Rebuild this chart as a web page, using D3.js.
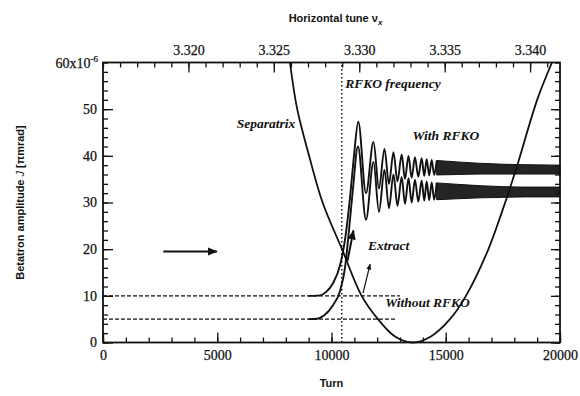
<!DOCTYPE html>
<html>
<head>
<meta charset="utf-8">
<script src="https://cdn.jsdelivr.net/npm/d3@7"></script>
<style>
body { margin: 0; background: #fff; }
.tick text { font-family: "Liberation Serif", serif; font-size: 14px; fill: #111; stroke: #111; stroke-width: 0.25px; }
.lbl { font-family: "Liberation Serif", serif; font-style: italic; font-weight: bold; font-size: 13.5px; fill: #111; }
.ttl { font-family: "Liberation Sans", sans-serif; font-weight: bold; font-size: 11px; fill: #111; }
</style>
</head>
<body>
<div id="chart"></div>
<script>
// values: turn vs betatron amplitude J (x1e-6 pi mm mrad)
const xTicks = [0, 5000, 10000, 15000, 20000];
const yTicks = [0, 10, 20, 30, 40, 50];
const tuneTicks = [3.320, 3.325, 3.330, 3.335, 3.340];
const tuneRange = [3.315, 3.34175];

const rfkoTurn = 10450;

const separatrix = [[8183,60],[8500,50],[9020,40],[9610,30],[10460,20],[11320,10],[12035,5],
  [12780,1.3],[13570,0],[14350,1.3],[15185,5],[15885,10],[16850,19.8],[17460,28],[18070,37],
  [19000,52],[19650,60]];

// particle starting at J=10, with RFKO
const withUpper = [[9000,10],[9496,10.1],[9758,10.8],[10065,12.7],[10371,16.5],[10590,22],
  [10809,31],[10984,40],[11172,47.3],[11509,32],[11837,43],[12078,33],[12318,41.5],[12515,34],
  [12712,40.8],[12887,34.5],[13071,40.3],[13216,35],[13369,40],[13509,35.3],[13653,39.7],
  [13798,35.5],[13946,39.5],[14060,35.7],[14165,39.3],[14275,35.8],[14384,39.1],[14494,35.9],[14603,39]];

// particle starting at J=5, with RFKO
const withLower = [[9000,5],[9365,5.1],[9671,5.8],[10065,8],[10371,11],[10590,16],[10765,24],
  [10940,33],[11159,42],[11509,26.3],[11837,38.7],[12078,28],[12318,37],[12515,28.8],[12712,36],
  [12887,29.3],[13071,35.5],[13216,29.7],[13369,35.2],[13509,30],[13653,34.9],[13798,30.2],
  [13946,34.7],[14060,30.4],[14165,34.5],[14275,30.5],[14384,34.3],[14494,30.6],[14603,34.2]];

// fast oscillation seen as solid bands: [turn, low, high]
const bandUpper = [[14603,35.9,39.0],[15500,36.0,38.7],[16500,36.1,38.4],[17500,36.1,38.2],[18500,36.1,38.1],[20000,36.1,38.0]];
const bandLower = [[14603,30.6,34.2],[15500,30.8,33.9],[16500,31.0,33.6],[17500,31.1,33.4],[18500,31.2,33.3],[20000,31.2,33.3]];

// without RFKO: amplitudes stay flat
const withoutLevels = [[10, 12997], [5, 12866]];

// arrows: [turn0, J0, turn1, J1]
const arrows = [[2640,19.5,4980,19.5],[10700,17.5,10960,24],[11380,10.6,11690,16.8]];

const width = 580, height = 396;
const margin = {top: 62.5, right: 20, bottom: 53.5, left: 103};

const svg = d3.select("#chart").append("svg")
  .attr("width", width).attr("height", height);

const x = d3.scaleLinear().domain([0, 20000]).range([margin.left, width - margin.right]);
const y = d3.scaleLinear().domain([0, 60]).range([height - margin.bottom, margin.top]);
const tune = d3.scaleLinear().domain(tuneRange).range(x.range());

svg.append("defs").append("marker")
  .attr("id", "head").attr("viewBox", "0 0 10 10")
  .attr("refX", 9).attr("refY", 5)
  .attr("markerWidth", 5).attr("markerHeight", 5)
  .attr("orient", "auto")
  .append("path").attr("d", "M0,1L10,5L0,9z").attr("fill", "#111");

// axes (inward ticks)
function styleAxis(g) {
  g.select(".domain").remove();
  g.selectAll(".tick line").attr("stroke", "#111").attr("stroke-width", 1.3);
}
const minorX = d3.range(0, 20001, 1000);
const minorY = d3.range(0, 61, 2);
const minorTune = d3.range(3.315, 3.3418, 0.001);

svg.append("g").attr("transform", `translate(0,${y(0)})`)
  .call(d3.axisBottom(x).tickValues(minorX).tickSize(-5).tickFormat("")).call(styleAxis);
svg.append("g").attr("transform", `translate(0,${y(0)})`)
  .call(d3.axisBottom(x).tickValues(xTicks).tickSize(-10).tickPadding(8).tickFormat(d3.format("d"))).call(styleAxis);

svg.append("g").attr("transform", `translate(0,${y(60)})`)
  .call(d3.axisTop(tune).tickValues(minorTune).tickSize(-5).tickFormat("")).call(styleAxis);
svg.append("g").attr("transform", `translate(0,${y(60)})`)
  .call(d3.axisTop(tune).tickValues(tuneTicks).tickSize(-10).tickPadding(8).tickFormat(d3.format(".3f"))).call(styleAxis);

svg.append("g").attr("transform", `translate(${x(0)},0)`)
  .call(d3.axisLeft(y).tickValues(minorY).tickSize(-5).tickFormat("")).call(styleAxis);
svg.append("g").attr("transform", `translate(${x(0)},0)`)
  .call(d3.axisLeft(y).tickValues(yTicks).tickSize(-10).tickPadding(6).tickFormat(d3.format("d"))).call(styleAxis);

svg.append("g").attr("transform", `translate(${x(20000)},0)`)
  .call(d3.axisRight(y).tickValues(minorY).tickSize(-5).tickFormat("")).call(styleAxis);
svg.append("g").attr("transform", `translate(${x(20000)},0)`)
  .call(d3.axisRight(y).tickValues(yTicks).tickSize(-9).tickFormat("")).call(styleAxis);

// 60x10^-6 label
const yTopLabel = svg.append("text")
  .attr("x", x(0) - 5).attr("y", y(60) + 5)
  .attr("text-anchor", "end")
  .style("font-family", "Liberation Serif, serif").style("font-size", "14px")
  .attr("fill", "#111").attr("stroke", "#111").attr("stroke-width", 0.25);
yTopLabel.append("tspan").text("60x10");
yTopLabel.append("tspan").attr("dy", -6).style("font-size", "9px").text("-6");

// frame
svg.append("rect")
  .attr("x", x(0)).attr("y", y(60))
  .attr("width", x(20000) - x(0)).attr("height", y(0) - y(60))
  .attr("fill", "none").attr("stroke", "#111").attr("stroke-width", 1.8);

const plot = svg.append("g");

// without RFKO (dashed, constant)
plot.selectAll("line.flat").data(withoutLevels).join("line")
  .attr("class", "flat")
  .attr("x1", x(0)).attr("x2", d => x(d[1]))
  .attr("y1", d => y(d[0])).attr("y2", d => y(d[0]))
  .attr("stroke", "#111").attr("stroke-width", 1.1).attr("stroke-dasharray", "4,2");

// RFKO frequency
plot.append("line")
  .attr("x1", x(rfkoTurn)).attr("x2", x(rfkoTurn))
  .attr("y1", y(0)).attr("y2", y(60))
  .attr("stroke", "#111").attr("stroke-width", 1.5).attr("stroke-dasharray", "1.5,2.5");

// separatrix
plot.append("path").datum(separatrix)
  .attr("fill", "none").attr("stroke", "#111").attr("stroke-width", 1.8)
  .attr("d", d3.line().x(d => x(d[0])).y(d => y(d[1])).curve(d3.curveCatmullRom));

// with RFKO
const wave = d3.line().x(d => x(d[0])).y(d => y(d[1])).curve(d3.curveMonotoneX);
[withUpper, withLower].forEach(s => {
  plot.append("path").datum(s)
    .attr("fill", "none").attr("stroke", "#111").attr("stroke-width", 1.9)
    .attr("d", wave);
});
const band = d3.area().x(d => x(d[0])).y0(d => y(d[1])).y1(d => y(d[2])).curve(d3.curveMonotoneX);
[bandUpper, bandLower].forEach(b => {
  plot.append("path").datum(b)
    .attr("fill", "#111").attr("fill-opacity", 0.92)
    .attr("stroke", "#111").attr("stroke-width", 1)
    .attr("d", band);
});

// arrows
plot.selectAll("line.arrow").data(arrows).join("line")
  .attr("class", "arrow")
  .attr("x1", d => x(d[0])).attr("y1", d => y(d[1]))
  .attr("x2", d => x(d[2])).attr("y2", d => y(d[3]))
  .attr("stroke", "#111").attr("stroke-width", (d, i) => i == 2 ? 1.2 : 2)
  .attr("marker-end", "url(#head)");

// curve labels
const labels = [
  ["RFKO frequency", 10600, 54.5],
  ["Separatrix", 5850, 45.9],
  ["With RFKO", 13550, 43.5],
  ["Extract", 11600, 19.8],
  ["Without RFKO", 12350, 7.6]
];
plot.selectAll("text.lbl").data(labels).join("text")
  .attr("class", "lbl")
  .attr("x", d => x(d[1])).attr("y", d => y(d[2]))
  .text(d => d[0]);

// axis titles
svg.append("text").attr("class", "ttl")
  .attr("x", (x(0) + x(20000)) / 2).attr("y", 387)
  .attr("text-anchor", "middle").text("Turn");

const tt = svg.append("text").attr("class", "ttl")
  .attr("x", (x(0) + x(20000)) / 2 + 4).attr("y", 22)
  .attr("text-anchor", "middle").text("Horizontal tune ν");
tt.append("tspan").attr("dy", 3).style("font-size", "8px").style("font-style", "italic").text("x");

const yt = svg.append("text").attr("class", "ttl")
  .attr("transform", `translate(24,${(y(0) + y(60)) / 2}) rotate(-90)`)
  .attr("text-anchor", "middle");
yt.append("tspan").text("Betatron amplitude ");
yt.append("tspan").style("font-style", "italic").style("font-weight", "normal").text("J");
yt.append("tspan").text(" [πmrad]");
</script>
</body>
</html>
